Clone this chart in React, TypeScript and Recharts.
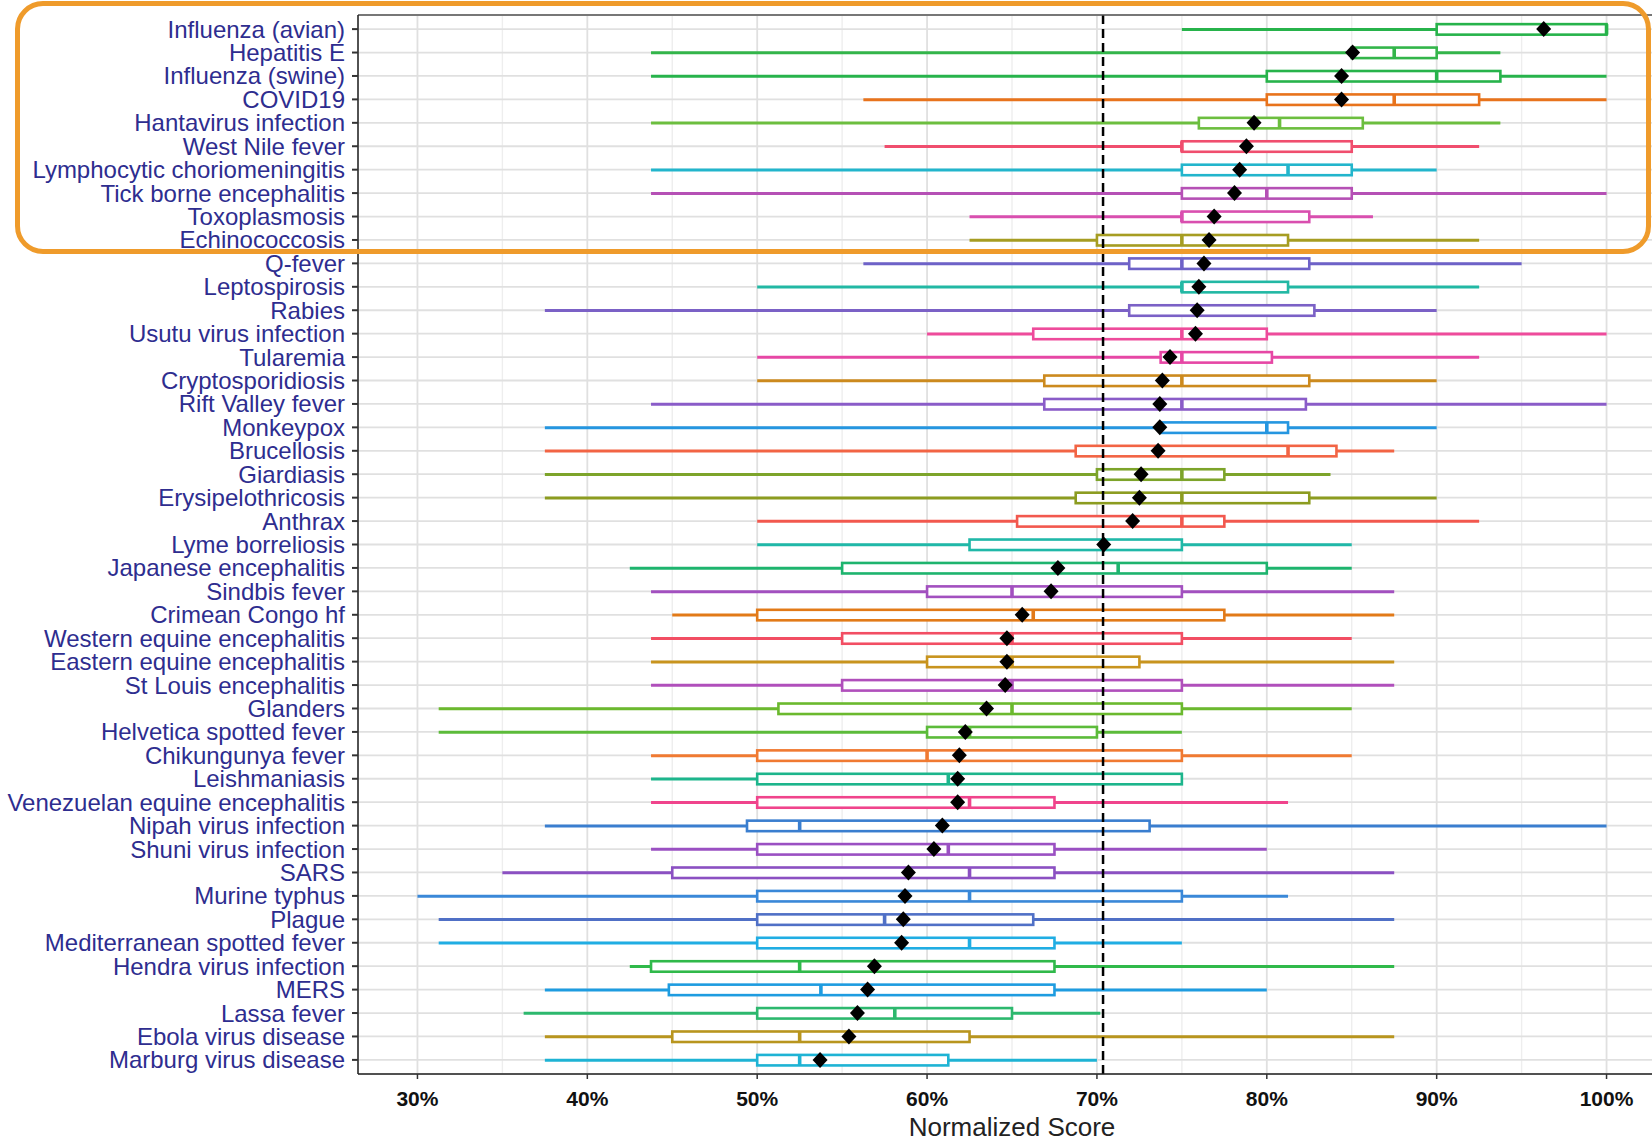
import React from 'react';
import {
    ComposedChart,
    Bar,
    Line,
    XAxis,
    YAxis,
    CartesianGrid,
    ReferenceLine,
} from 'recharts';

// diseases, top to bottom (sorted by mean score)
const diseases = [
    'Influenza (avian)', 'Hepatitis E', 'Influenza (swine)', 'COVID19', 'Hantavirus infection',
    'West Nile fever', 'Lymphocytic choriomeningitis', 'Tick borne encephalitis', 'Toxoplasmosis', 'Echinococcosis',
    'Q-fever', 'Leptospirosis', 'Rabies', 'Usutu virus infection', 'Tularemia',
    'Cryptosporidiosis', 'Rift Valley fever', 'Monkeypox', 'Brucellosis', 'Giardiasis',
    'Erysipelothricosis', 'Anthrax', 'Lyme borreliosis', 'Japanese encephalitis', 'Sindbis fever',
    'Crimean Congo hf', 'Western equine encephalitis', 'Eastern equine encephalitis', 'St Louis encephalitis', 'Glanders',
    'Helvetica spotted fever', 'Chikungunya fever', 'Leishmaniasis', 'Venezuelan equine encephalitis', 'Nipah virus infection',
    'Shuni virus infection', 'SARS', 'Murine typhus', 'Plague', 'Mediterranean spotted fever',
    'Hendra virus infection', 'MERS', 'Lassa fever', 'Ebola virus disease', 'Marburg virus disease',
];

const whiskerLow = [
    75, 43.75, 43.75, 56.25, 43.75, 57.5, 43.75, 43.75, 62.5, 62.5,
    56.25, 50, 37.5, 60, 50, 50, 43.75, 37.5, 37.5, 37.5,
    37.5, 50, 50, 42.5, 43.75, 45, 43.75, 43.75, 43.75, 31.25,
    31.25, 43.75, 43.75, 43.75, 37.5, 43.75, 35, 30, 31.25, 31.25,
    42.5, 37.5, 36.25, 37.5, 37.5,
];
const q1 = [
    90, 85, 80, 80, 76, 75, 75, 75, 75, 70,
    71.9, 75, 71.9, 66.25, 73.75, 66.9, 66.9, 73.75, 68.75, 70,
    68.75, 65.3, 62.5, 55, 60, 50, 55, 60, 55, 51.25,
    60, 50, 50, 50, 49.4, 50, 45, 50, 50, 50,
    43.75, 44.8, 50, 45, 50,
];
const median = [
    100, 87.5, 90, 87.5, 80.75, 75, 81.25, 80, 75, 75,
    75, 75, 76, 75, 75, 75, 75, 80, 81.25, 75,
    75, 75, 70.3, 71.25, 65, 66.25, 65, 65, 65, 65,
    62.5, 60, 61.25, 62.5, 52.5, 61.25, 62.5, 62.5, 57.5, 62.5,
    52.5, 53.75, 58.1, 52.5, 52.5,
];
const q3 = [
    100, 90, 93.75, 92.5, 85.65, 85, 85, 85, 82.5, 81.25,
    82.5, 81.25, 82.8, 80, 80.3, 82.5, 82.3, 81.25, 84.1, 77.5,
    82.5, 77.5, 75, 80, 75, 77.5, 75, 72.5, 75, 75,
    70, 75, 75, 67.5, 73.1, 67.5, 67.5, 75, 66.25, 67.5,
    67.5, 67.5, 65, 62.5, 61.25,
];
const whiskerHigh = [
    100, 93.75, 100, 100, 93.75, 92.5, 90, 100, 86.25, 92.5,
    95, 92.5, 90, 100, 92.5, 90, 100, 90, 87.5, 83.75,
    90, 92.5, 85, 85, 87.5, 87.5, 85, 87.5, 87.5, 85,
    75, 85, 75, 81.25, 100, 80, 87.5, 81.25, 87.5, 75,
    87.5, 80, 70.2, 87.5, 70,
];
const meanScore = [
    96.3, 85.05, 84.4, 84.4, 79.25, 78.8, 78.4, 78.1, 76.9, 76.6,
    76.3, 76.0, 75.9, 75.8, 74.3, 73.85, 73.7, 73.7, 73.6, 72.6,
    72.5, 72.1, 70.4, 67.7, 67.3, 65.6, 64.7, 64.7, 64.6, 63.5,
    62.25, 61.9, 61.8, 61.8, 60.9, 60.4, 58.9, 58.7, 58.6, 58.5,
    56.9, 56.5, 55.9, 55.4, 53.7,
];
const colors = [
    '#27B34B', '#33B54A', '#27B34B', '#E8731C', '#6CBE3F',
    '#F04E6E', '#22B5CC', '#B550B5', '#D94FAF', '#A69D22',
    '#6E62C8', '#22B8A4', '#7B61C6', '#EE4B9B', '#E647A5',
    '#CC8A1E', '#8A5CC8', '#2596E0', '#F26444', '#7DA42A',
    '#8C9C20', '#F2584E', '#20B8A8', '#1EB46E', '#A250BF',
    '#E27A18', '#F24E63', '#C8941E', '#B04FBB', '#6BB92E',
    '#5CBB3A', '#F07A32', '#1DB58C', '#F0448C', '#3A7ECF',
    '#9A50C2', '#8B50C2', '#3A88D8', '#5070C6', '#20ADE3',
    '#30B94A', '#1E9CE0', '#2DB86E', '#B8951E', '#1EB3D4',
];

const majorTicks = [30, 40, 50, 60, 70, 80, 90, 100];
const minorTicks = [35, 45, 55, 65, 75, 85, 95];
const overallMean = 70.36;
const xDomain = [26.5, 103.5];

const rows = diseases.map((name, i) => ({
    name,
    range: [whiskerLow[i], whiskerHigh[i]],
    low: whiskerLow[i],
    q1: q1[i],
    median: median[i],
    q3: q3[i],
    high: whiskerHigh[i],
    mean: meanScore[i],
    color: colors[i],
}));

// whisker + box drawn from the bar's pixel span (low..high)
const BoxShape = (props: any) => {
    const { x, y, width, height, payload } = props;
    const d = payload;
    const span = d.high - d.low || 1;
    const px = (v: number) => x + ((v - d.low) / span) * width;
    const yc = y + height / 2;
    const h = 10.5;
    return (
        <g>
            <line x1={px(d.low)} x2={px(d.high)} y1={yc} y2={yc} stroke={d.color} strokeWidth={3} />
            <rect
                x={px(d.q1)}
                y={yc - h / 2}
                width={px(d.q3) - px(d.q1)}
                height={h}
                fill="#fff"
                stroke={d.color}
                strokeWidth={2.6}
            />
            <line x1={px(d.median)} x2={px(d.median)} y1={yc - h / 2} y2={yc + h / 2} stroke={d.color} strokeWidth={3.6} />
        </g>
    );
};

const Diamond = (props: any) => {
    const { cx, cy, index } = props;
    if (cx == null || cy == null) return <g key={`m${index}`} />;
    return (
        <path
            key={`m${index}`}
            d={`M${cx},${cy - 8}L${cx + 7.5},${cy}L${cx},${cy + 8}L${cx - 7.5},${cy}Z`}
            fill="#000"
        />
    );
};

const minorLines = (p: any) => {
    const { xAxis, offset } = p;
    if (xAxis && typeof xAxis.scale === 'function') return minorTicks.map((v) => xAxis.scale(v));
    return minorTicks.map((v) => offset.left + ((v - xDomain[0]) / (xDomain[1] - xDomain[0])) * offset.width);
};

export default function App() {
    return (
        <div
            style={{
                position: 'fixed',
                left: 0,
                top: 0,
                width: 1652,
                height: 1140,
                overflow: 'hidden',
                background: '#fff',
                fontFamily: '"Liberation Sans", Arial, sans-serif',
            }}
        >
            <ComposedChart
                width={1700}
                height={1140}
                data={rows}
                layout="vertical"
                margin={{ top: 14, right: 34, bottom: 0, left: 0 }}
            >
                <CartesianGrid horizontal={false} stroke="#EEEEEE" strokeWidth={1.4} verticalCoordinatesGenerator={minorLines} />
                <CartesianGrid stroke="#E0E0E0" strokeWidth={1.8} />
                <XAxis
                    xAxisId="top"
                    orientation="top"
                    type="number"
                    domain={xDomain}
                    height={1}
                    tick={false}
                    tickLine={false}
                    axisLine={{ stroke: '#555', strokeWidth: 1.5 }}
                />
                <XAxis
                    type="number"
                    domain={xDomain}
                    ticks={majorTicks}
                    allowDataOverflow
                    tickFormatter={(v) => `${v}%`}
                    height={66}
                    tickSize={5}
                    tickMargin={12}
                    tick={{ fill: '#111', fontSize: 21, fontWeight: 'bold' }}
                    tickLine={{ stroke: '#333', strokeWidth: 1.5 }}
                    axisLine={{ stroke: '#222', strokeWidth: 1.5 }}
                    label={{ value: 'Normalized Score', position: 'insideBottom', offset: 4, fill: '#222', fontSize: 26 }}
                />
                <YAxis
                    type="category"
                    dataKey="name"
                    width={358}
                    interval={0}
                    padding={{ top: 2.4, bottom: 2.4 }}
                    tickSize={6}
                    tickMargin={7}
                    tick={{ fill: '#2E2D8F', fontSize: 24 }}
                    tickLine={{ stroke: '#333', strokeWidth: 2 }}
                    axisLine={{ stroke: '#222', strokeWidth: 1.5 }}
                />
                <Bar dataKey="range" barSize={12} shape={BoxShape} isAnimationActive={false} />
                <ReferenceLine x={overallMean} stroke="#000" strokeWidth={2.5} strokeDasharray="9 5" />
                <Line
                    dataKey="mean"
                    stroke="none"
                    dot={Diamond}
                    activeDot={false}
                    legendType="none"
                    isAnimationActive={false}
                />
            </ComposedChart>
            <div
                style={{
                    position: 'absolute',
                    left: 15,
                    top: 1,
                    width: 1636,
                    height: 253,
                    boxSizing: 'border-box',
                    border: '5px solid #EF9B2B',
                    borderRadius: 28,
                    pointerEvents: 'none',
                }}
            />
        </div>
    );
}
